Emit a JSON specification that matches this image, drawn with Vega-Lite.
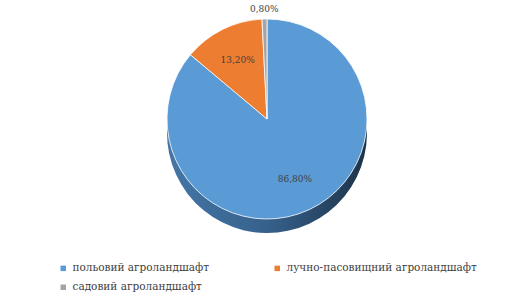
{
  "$schema": "https://vega.github.io/schema/vega-lite/v6.json",
  "autosize": "none",
  "padding": {"left": 6, "top": 9, "right": 0, "bottom": 76},
  "width": 522,
  "height": 220,
  "background": "white",
  "config": {
    "view": {"stroke": null},
    "font": "DejaVu Serif"
  },
  "data": {
    "values": [
      {"category": "польовий агроландшафт", "value": 86.8, "label": "86,80%", "order": 1},
      {"category": "лучно-пасовищний агроландшафт", "value": 13.2, "label": "13,20%", "order": 2},
      {"category": "садовий агроландшафт", "value": 0.8, "label": "0,80%", "order": 3}
    ]
  },
  "encoding": {
    "theta": {"field": "value", "type": "quantitative", "stack": true},
    "order": {"field": "order", "type": "quantitative"}
  },
  "layer": [
    {
      "mark": {
        "type": "arc",
        "outerRadius": 100,
        "yOffset": 14,
        "color": {
          "gradient": "linear",
          "x1": 0, "x2": 1, "y1": 0, "y2": 0,
          "stops": [
            {"offset": 0, "color": "#4576a6"},
            {"offset": 0.5, "color": "#36618c"},
            {"offset": 1, "color": "#1d3349"}
          ]
        }
      }
    },
    {
      "mark": {"type": "arc", "outerRadius": 100, "stroke": "#ffffff", "strokeWidth": 0.8},
      "encoding": {
        "color": {
          "field": "category",
          "type": "nominal",
          "sort": ["польовий агроландшафт", "лучно-пасовищний агроландшафт", "садовий агроландшафт"],
          "scale": {
            "domain": ["польовий агроландшафт", "лучно-пасовищний агроландшафт", "садовий агроландшафт"],
            "range": ["#5b9bd5", "#ed7d31", "#a5a5a5"]
          },
          "legend": {
            "title": null,
            "orient": "none",
            "legendX": 52,
            "legendY": 254,
            "direction": "horizontal",
            "columns": 2,
            "symbolType": "square",
            "symbolSize": 30,
            "symbolStrokeWidth": 0,
            "labelFont": "DejaVu Serif",
            "labelFontSize": 10.5,
            "labelColor": "#404040",
            "labelLimit": 300,
            "columnPadding": 62,
            "rowPadding": 8
          }
        }
      }
    },
    {
      "mark": {"type": "text", "radius": 66, "fontSize": 9, "font": "DejaVu Serif", "color": "#404040"},
      "encoding": {
        "text": {"condition": {"test": "datum.order < 3", "field": "label"}, "value": ""}
      }
    },
    {
      "mark": {"type": "text", "radius": 110, "fontSize": 9, "font": "DejaVu Serif", "color": "#404040"},
      "encoding": {
        "text": {"condition": {"test": "datum.order == 3", "field": "label"}, "value": ""}
      }
    }
  ]
}
